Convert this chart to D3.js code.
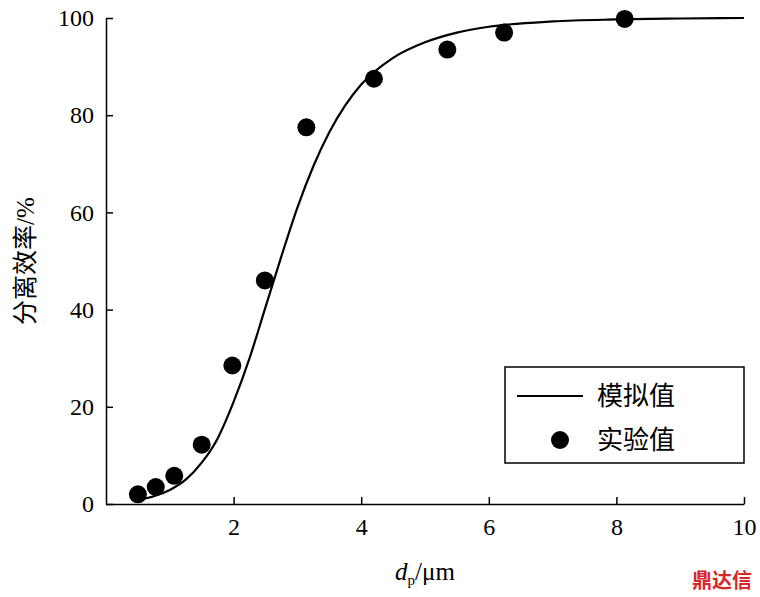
<!DOCTYPE html><html><head><meta charset="utf-8">
<script src="https://cdn.jsdelivr.net/npm/d3@7"></script>
<style>body{margin:0;background:#fff}text{font-family:"Liberation Serif","Noto Sans CJK SC",serif}</style></head><body>
<svg id="c" width="760" height="597"></svg>
<script>
const xTicks=[2,4,6,8,10];
const yTicks=[0,20,40,60,80,100];
const expX=[0.5,0.78,1.07,1.5,1.98,2.49,3.14,4.2,5.35,6.24,8.13];
const expY=[2,3.5,5.8,12.2,28.5,46,77.5,87.5,93.5,97,99.8];
const simX=[0.5,0.75,1,1.25,1.5,1.75,2,2.25,2.5,2.75,3,3.25,3.5,3.75,4,4.5,5,5.5,6,7,8,9,10];
const simY=[0.8,1.6,2.9,5,8.5,13.5,21,30,40.5,51,61,69.5,76.5,82,86.3,91.8,95,97,98.2,99.3,99.7,99.9,100];
const svg=d3.select("#c");
const x=d3.scaleLinear().domain([0,10]).range([106,744]);
const y=d3.scaleLinear().domain([0,100]).range([504,18]);
const gx=svg.append("g").attr("transform","translate(0,504)").call(d3.axisBottom(x).tickValues(xTicks).tickSize(-7).tickPadding(14).tickSizeOuter(0));
const gy=svg.append("g").attr("transform","translate(106,0)").call(d3.axisLeft(y).tickValues(yTicks).tickSize(-7).tickPadding(12).tickSizeOuter(0));
[gx,gy].forEach(g=>{g.selectAll("text").attr("font-size",24).attr("fill","#000");g.selectAll("line,path").attr("stroke","#000").attr("stroke-width",1.5);});
svg.append("path").datum(simX.map((v,i)=>[v,simY[i]])).attr("fill","none").attr("stroke","#000").attr("stroke-width",2.2)
 .attr("d",d3.line().x(d=>x(d[0])).y(d=>y(d[1])).curve(d3.curveMonotoneX));
svg.selectAll("circle.p").data(expX).join("circle").attr("cx",d=>x(d)).attr("cy",(d,i)=>y(expY[i])).attr("r",9).attr("fill","#000");
svg.append("rect").attr("x",505).attr("y",367).attr("width",239).attr("height",96).attr("fill","#fff").attr("stroke","#000").attr("stroke-width",1.5);
svg.append("line").attr("x1",517).attr("x2",583).attr("y1",396).attr("y2",396).attr("stroke","#000").attr("stroke-width",2.2);
svg.append("circle").attr("cx",560).attr("cy",440).attr("r",9);
svg.append("text").attr("x",597).attr("y",405).attr("font-size",26).text("模拟值");
svg.append("text").attr("x",597).attr("y",449).attr("font-size",26).text("实验值");
const xl=svg.append("text").attr("x",425).attr("y",580).attr("text-anchor","middle").attr("font-size",25);
xl.append("tspan").attr("font-style","italic").text("d");
xl.append("tspan").attr("font-size",15).attr("dy",5).text("p");
xl.append("tspan").attr("dy",-5).text("/μm");
svg.append("text").attr("transform","translate(34,261) rotate(-90)").attr("text-anchor","middle").attr("font-size",25).text("分离效率/%");
svg.append("text").attr("x",752).attr("y",588).attr("text-anchor","end").attr("font-size",20).attr("font-weight","bold").attr("fill","#d7262b").text("鼎达信");
</script></body></html>
